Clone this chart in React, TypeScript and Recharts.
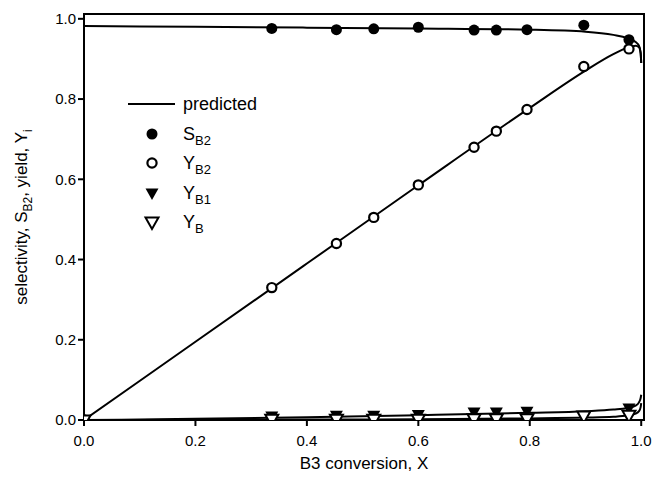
import React from "react";
import { ComposedChart, Line, Scatter, XAxis, YAxis, ReferenceArea } from "recharts";

const FONT = "'Liberation Sans', Arial, Helvetica, sans-serif";

// measured points (B3 conversion X)
const conversion = [0, 0.337, 0.453, 0.52, 0.6, 0.7, 0.74, 0.795, 0.897, 0.978];
const selectivityB2 = [null, 0.976, 0.973, 0.975, 0.979, 0.972, 0.972, 0.973, 0.984, 0.948];
const yieldB2 = [0, 0.33, 0.44, 0.505, 0.586, 0.68, 0.72, 0.774, 0.881, 0.925];
const yieldB1 = [null, 0.01, 0.012, 0.012, 0.014, 0.02, 0.02, 0.022, null, 0.03];
const yieldB = [0, 0.002, 0.002, 0.002, 0.002, 0.003, 0.003, 0.003, 0.01, 0.012];

// model curves
const predX = [0, 0.2, 0.4, 0.6, 0.8, 0.9, 0.95, 0.975, 0.99, 0.996, 0.999, 1.0];
const predS = [0.982, 0.98, 0.978, 0.976, 0.973, 0.968, 0.96, 0.952, 0.942, 0.933, 0.915, 0.89];
const predYB2 = [0, 0.195, 0.39, 0.585, 0.778, 0.871, 0.912, 0.928, 0.933, 0.929, 0.914, 0.89];
const predYB1 = [0, 0.003, 0.007, 0.012, 0.018, 0.022, 0.026, 0.03, 0.036, 0.044, 0.055, 0.063];
const predYB = [0, 0.0005, 0.001, 0.002, 0.004, 0.006, 0.008, 0.011, 0.016, 0.022, 0.032, 0.042];

const ticks = [0, 0.2, 0.4, 0.6, 0.8, 1.0];

const points = (ys: (number | null)[]) =>
  conversion.map((x, i) => ({ x, y: ys[i] })).filter(d => d.y !== null);
const curve = (ys: number[]) => predX.map((x, i) => ({ x, y: ys[i] }));

const filledCircle = (p: any) => <circle cx={p.cx} cy={p.cy} r={5.5} fill="#000" />;
const openCircle = (p: any) => (
  <circle cx={p.cx} cy={p.cy} r={4.6} fill="#fff" stroke="#000" strokeWidth={2.2} />
);
const triPoints = (cx: number, cy: number) =>
  `${cx - 6.5},${cy - 4.5} ${cx + 6.5},${cy - 4.5} ${cx},${cy + 7}`;
const filledTri = (p: any) => <polygon points={triPoints(p.cx, p.cy)} fill="#000" />;
const openTri = (p: any) => (
  <polygon points={triPoints(p.cx, p.cy)} fill="#fff" stroke="#000" strokeWidth={2} strokeLinejoin="miter" />
);

const YLabel = (props: any) => {
  const vb = props.viewBox || { x: 0, y: 14, width: 84, height: 406 };
  const x = 27;
  const y = vb.y + vb.height / 2;
  return (
    <text
      x={x}
      y={y}
      transform={`rotate(-90, ${x}, ${y})`}
      textAnchor="middle"
      fontSize={17}
      fill="#000"
      fontFamily={FONT}
    >
      selectivity, S<tspan fontSize={12} dy={5}>B2</tspan>
      <tspan dy={-5}>, yield, Y</tspan>
      <tspan fontSize={12} dy={5}>i</tspan>
    </text>
  );
};

function Legend() {
  const lx = 152;
  const tx = 183;
  const rows = [104, 134, 163, 193, 222];
  return (
    <svg
      width={652}
      height={483}
      style={{ position: "absolute", left: 0, top: 0, pointerEvents: "none" }}
      fontFamily={FONT}
    >
      <line x1={128} x2={175} y1={rows[0]} y2={rows[0]} stroke="#000" strokeWidth={2} />
      <text x={tx} y={rows[0] + 6} fontSize={18}>predicted</text>
      {filledCircle({ cx: lx, cy: rows[1] })}
      <text x={tx} y={rows[1] + 6} fontSize={18}>
        S<tspan fontSize={13} dy={5}>B2</tspan>
      </text>
      {openCircle({ cx: lx, cy: rows[2] })}
      <text x={tx} y={rows[2] + 6} fontSize={18}>
        Y<tspan fontSize={13} dy={5}>B2</tspan>
      </text>
      {filledTri({ cx: lx, cy: rows[3] })}
      <text x={tx} y={rows[3] + 6} fontSize={18}>
        Y<tspan fontSize={13} dy={5}>B1</tspan>
      </text>
      {openTri({ cx: lx, cy: rows[4] })}
      <text x={tx} y={rows[4] + 6} fontSize={18}>
        Y<tspan fontSize={13} dy={5}>B</tspan>
      </text>
    </svg>
  );
}

export default function App() {
  const tickStyle = { fill: "#000", fontSize: 15, fontFamily: FONT };
  return (
    <div style={{ position: "absolute", left: 0, top: 0, width: 652, height: 483, background: "#fff" }}>
      <ComposedChart
        width={652}
        height={483}
        margin={{ top: 14, right: 8, bottom: 0, left: 0 }}
        style={{ fontFamily: FONT }}
      >
        <XAxis
          dataKey="x"
          type="number"
          domain={[0, 1.005]}
          ticks={ticks}
          tickFormatter={(v: number) => v.toFixed(1)}
          allowDataOverflow
          height={63}
          stroke="#000"
          strokeWidth={2}
          tick={tickStyle}
          tickMargin={9}
          label={{
            value: "B3 conversion, X",
            position: "insideBottom",
            offset: 14,
            fill: "#000",
            fontSize: 17,
            fontFamily: FONT,
          }}
        />
        <YAxis
          dataKey="y"
          type="number"
          domain={[0, 1.012]}
          ticks={ticks}
          tickFormatter={(v: number) => v.toFixed(1)}
          allowDataOverflow
          width={84}
          stroke="#000"
          strokeWidth={2}
          tick={tickStyle}
          label={{ content: (p: any) => <YLabel {...p} /> }}
        />
        <ReferenceArea
          x1={0}
          x2={1.005}
          y1={0}
          y2={1.012}
          fill="none"
          fillOpacity={0}
          stroke="#000"
          strokeWidth={2}
        />
        <Line data={curve(predS)} dataKey="y" type="monotone" stroke="#000" strokeWidth={2} dot={false} isAnimationActive={false} />
        <Line data={curve(predYB2)} dataKey="y" type="monotone" stroke="#000" strokeWidth={2} dot={false} isAnimationActive={false} />
        <Line data={curve(predYB1)} dataKey="y" type="monotone" stroke="#000" strokeWidth={2} dot={false} isAnimationActive={false} />
        <Line data={curve(predYB)} dataKey="y" type="monotone" stroke="#000" strokeWidth={2} dot={false} isAnimationActive={false} />
        <Scatter data={points(selectivityB2)} dataKey="y" shape={filledCircle} isAnimationActive={false} />
        <Scatter data={points(yieldB2)} dataKey="y" shape={openCircle} isAnimationActive={false} />
        <Scatter data={points(yieldB1)} dataKey="y" shape={filledTri} isAnimationActive={false} />
        <Scatter data={points(yieldB)} dataKey="y" shape={openTri} isAnimationActive={false} />
      </ComposedChart>
      <Legend />
    </div>
  );
}
